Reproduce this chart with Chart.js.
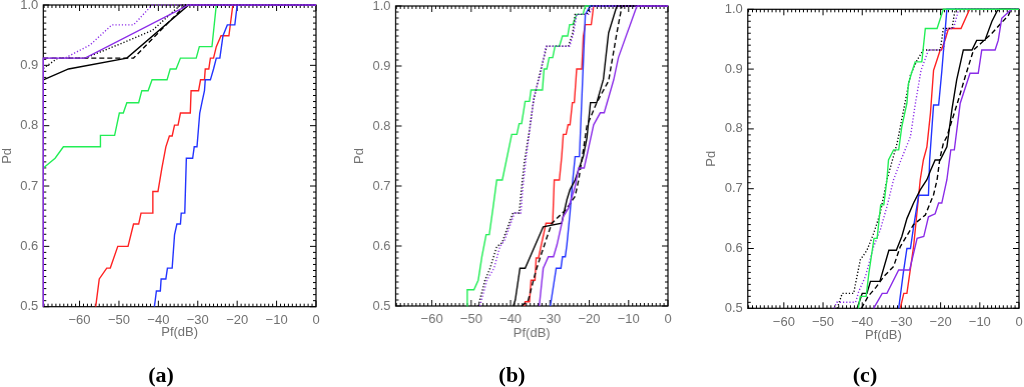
<!DOCTYPE html>
<html>
<head>
<meta charset="utf-8">
<script src="https://cdn.jsdelivr.net/npm/chart.js@4.4.1/dist/chart.umd.min.js"></script>
<style>
  html, body { margin: 0; padding: 0; background: #fff; }
  body { width: 1024px; height: 387px; overflow: hidden; position: relative; }
  canvas { position: absolute; }
  .cap { position: absolute; transform: translate(-50%, -50%); font-family: "Liberation Serif", "Times New Roman", serif; font-weight: bold; font-size: 22px; color: #000; white-space: nowrap; }
</style>
</head>
<body>
<canvas id="ca"></canvas>
<canvas id="cb"></canvas>
<canvas id="cc"></canvas>
<div class="cap" style="left:161px; top:375px;">(a)</div>
<div class="cap" style="left:512px; top:375px;">(b)</div>
<div class="cap" style="left:865px; top:375px;">(c)</div>
<script>
// ---------- axis ticks ----------
const xTicks = [-60, -50, -40, -30, -20, -10, 0];
const yTicks = [0.5, 0.6, 0.7, 0.8, 0.9, 1.0];
const xRange = [-69.2, 0];
const yRange = [0.5, 1.0];
const xLabel = 'Pf(dB)';
const yLabel = 'Pd';

// ---------- panel (a) ----------
const a_green = [[-69.2,0.730],[-66.2,0.746],[-64.1,0.765],[-54.7,0.765],[-54.7,0.784],[-51.1,0.784],[-49.9,0.821],[-48.9,0.821],[-48.0,0.838],[-45.0,0.838],[-44.2,0.858],[-42.6,0.858],[-41.6,0.876],[-37.8,0.876],[-37.0,0.894],[-35.5,0.894],[-34.4,0.912],[-30.4,0.912],[-29.6,0.931],[-26.4,0.931],[-25.3,1.0],[0,1.0]];
const a_red = [[-55.9,0.5],[-55.0,0.546],[-53.1,0.564],[-52.2,0.564],[-50.3,0.600],[-47.7,0.600],[-46.3,0.637],[-45.0,0.637],[-44.4,0.655],[-41.6,0.655],[-41.4,0.691],[-40.1,0.691],[-39.1,0.730],[-38.1,0.765],[-37.2,0.783],[-36.5,0.783],[-35.9,0.801],[-35.0,0.801],[-34.4,0.821],[-31.9,0.821],[-31.7,0.858],[-29.8,0.858],[-29.3,0.876],[-28.3,0.876],[-28.1,0.894],[-27.2,0.894],[-26.8,0.912],[-26.0,0.912],[-25.3,0.931],[-24.1,0.949],[-22.1,0.949],[-21.1,1.0],[0,1.0]];
const a_blue = [[-41.0,0.5],[-40.5,0.526],[-39.5,0.526],[-39.3,0.546],[-38.1,0.546],[-37.7,0.564],[-36.5,0.564],[-35.9,0.619],[-35.3,0.637],[-34.4,0.637],[-34.2,0.655],[-33.3,0.655],[-32.9,0.746],[-31.3,0.746],[-30.9,0.765],[-30.2,0.765],[-29.5,0.821],[-28.9,0.840],[-28.3,0.858],[-28.1,0.876],[-26.8,0.876],[-26.0,0.894],[-25.3,0.912],[-24.4,0.912],[-23.6,0.949],[-22.5,0.967],[-20.6,0.967],[-20.0,1.0],[0,1.0]];
const a_black = [[-69.2,0.876],[-62.8,0.894],[-48.0,0.912],[-32.3,1.0],[0,1.0]];
const a_dash = [[-69.2,0.912],[-46.3,0.912],[-33.1,1.0],[0,1.0]];
const a_dot = [[-69.2,0.895],[-65.5,0.912],[-58.6,0.912],[-48.0,0.940],[-41.5,0.958],[-34.4,1.0],[0,1.0]];
const a_purple = [[-69.2,0.5],[-69.2,0.912],[-58.6,0.912],[-32.3,1.0],[0,1.0]];
const a_pdot = [[-69.2,0.912],[-63.7,0.912],[-57.3,0.934],[-51.8,0.967],[-46.3,0.967],[-41.6,1.0],[0,1.0]];

// ---------- panel (b) ----------
const b_green = [[-51.1,0.5],[-51.0,0.527],[-49.3,0.527],[-48.2,0.543],[-47.3,0.582],[-46.2,0.619],[-45.4,0.619],[-44.4,0.666],[-43.5,0.71],[-42.1,0.71],[-39.7,0.786],[-38.4,0.786],[-37.8,0.804],[-37.2,0.804],[-36.3,0.841],[-35.2,0.841],[-34.8,0.860],[-31.9,0.860],[-31.5,0.895],[-30.8,0.895],[-30.2,0.914],[-29.3,0.914],[-28.7,0.933],[-27.6,0.933],[-26.8,0.950],[-25.5,0.950],[-25.0,0.969],[-24.2,0.969],[-23.2,0.986],[-21.6,0.986],[-21.0,1.0],[0,1.0]];
const b_red = [[-36.5,0.5],[-36.3,0.507],[-35.2,0.507],[-34.8,0.543],[-33.8,0.543],[-33.5,0.580],[-32.9,0.580],[-31.0,0.638],[-29.3,0.638],[-28.9,0.710],[-27.6,0.710],[-27.0,0.749],[-26.6,0.786],[-25.9,0.786],[-25.4,0.802],[-24.9,0.802],[-24.3,0.839],[-23.8,0.839],[-23.2,0.895],[-21.9,0.895],[-21.5,0.950],[-21.0,0.969],[-19.5,0.969],[-18.9,1.0],[0,1.0]];
const b_blue = [[-29.9,0.5],[-28.4,0.563],[-27.2,0.563],[-26.8,0.582],[-26.1,0.582],[-25.7,0.602],[-24.9,0.655],[-24.2,0.71],[-23.6,0.749],[-22.5,0.749],[-21.0,0.986],[-19.8,1.0],[0,1.0]];
const b_black = [[-39.3,0.5],[-38.8,0.51],[-37.6,0.563],[-36.3,0.563],[-31.7,0.632],[-27.0,0.638],[-25.7,0.677],[-24.9,0.694],[-23.6,0.71],[-21.5,0.75],[-20.6,0.78],[-19.7,0.839],[-18.1,0.839],[-16.4,0.878],[-15.1,0.955],[-13.0,1.0],[0,1.0]];
const b_dash = [[-37.2,0.5],[-35.5,0.51],[-33.5,0.56],[-31.0,0.61],[-29.5,0.638],[-26.0,0.66],[-23.6,0.683],[-22.7,0.71],[-21.5,0.76],[-20.6,0.80],[-19.0,0.825],[-18.1,0.839],[-15.1,0.875],[-13.0,0.955],[-11.7,1.0],[0,1.0]];
const b_dot = [[-48.2,0.5],[-46.5,0.543],[-45.2,0.563],[-43.5,0.599],[-42.2,0.605],[-39.4,0.655],[-37.8,0.655],[-37.2,0.697],[-36.5,0.74],[-35.3,0.789],[-34.2,0.841],[-32.9,0.878],[-30.8,0.933],[-25.3,0.933],[-24.2,0.955],[-23.6,0.986],[-20.6,0.986],[-19.8,1.0],[0,1.0]];
const b_purple = [[-32.7,0.5],[-31.7,0.563],[-30.4,0.582],[-29.1,0.582],[-28.2,0.602],[-26.6,0.649],[-25.3,0.663],[-23.6,0.699],[-22.7,0.730],[-21.3,0.730],[-18.9,0.802],[-17.2,0.822],[-16.2,0.822],[-13.8,0.877],[-12.6,0.914],[-7.9,1.0],[0,1.0]];
const b_pdot = [[-47.8,0.5],[-46.0,0.543],[-44.2,0.563],[-42.7,0.599],[-41.5,0.61],[-39.0,0.655],[-37.4,0.655],[-36.9,0.697],[-36.0,0.75],[-35.0,0.80],[-34.0,0.85],[-32.5,0.885],[-31.0,0.933],[-25.0,0.933],[-24.0,0.955],[-23.2,0.986],[-20.2,0.986],[-18.9,1.0],[0,1.0]];

// ---------- panel (c) ----------
const c_green = [[-41.0,0.5],[-40.5,0.52],[-39.0,0.52],[-38.3,0.559],[-37.0,0.617],[-36.2,0.617],[-35.3,0.673],[-34.5,0.673],[-33.7,0.715],[-33.3,0.748],[-32.0,0.765],[-30.7,0.765],[-29.9,0.804],[-28.6,0.843],[-28.2,0.876],[-27.3,0.896],[-26.5,0.912],[-24.8,0.912],[-23.9,0.968],[-20.9,0.968],[-19.3,1.0],[0,1.0]];
const c_red = [[-30.3,0.5],[-29.4,0.525],[-28.6,0.525],[-26.9,0.603],[-25.2,0.715],[-24.4,0.748],[-23.5,0.770],[-22.6,0.826],[-21.8,0.898],[-21.1,0.912],[-20.1,0.932],[-19.8,0.932],[-18.8,0.95],[-18.0,0.968],[-14.8,0.968],[-12.6,1.0],[0,1.0]];
const c_blue = [[-30.7,0.5],[-29.5,0.56],[-28.6,0.60],[-27.7,0.60],[-26.9,0.636],[-25.6,0.689],[-23.1,0.689],[-22.8,0.748],[-21.8,0.84],[-20.5,0.84],[-19.7,0.896],[-18.4,1.0],[0,1.0]];
const c_black = [[-41.3,0.5],[-40.0,0.525],[-38.8,0.525],[-37.9,0.545],[-35.5,0.545],[-33.2,0.597],[-31.3,0.597],[-29.9,0.620],[-28.6,0.650],[-26.9,0.676],[-25.2,0.698],[-23.5,0.715],[-22.6,0.73],[-21.4,0.748],[-20.1,0.748],[-18.4,0.770],[-17.1,0.833],[-15.9,0.882],[-14.2,0.932],[-12.0,0.932],[-10.8,0.948],[-8.7,0.948],[-6.9,0.98],[-5.5,0.998],[-5.0,1.0],[0,1.0]];
const c_dash = [[-40.2,0.5],[-38.5,0.52],[-36.5,0.535],[-34.5,0.553],[-32.0,0.57],[-30.3,0.603],[-26.9,0.64],[-23.9,0.656],[-21.8,0.69],[-20.9,0.715],[-20.2,0.75],[-19.3,0.776],[-18.4,0.787],[-15.4,0.85],[-13.7,0.888],[-11.6,0.932],[-6.9,0.96],[-2.7,0.99],[-2.0,1.0],[0,1.0]];
const c_dot = [[-46.4,0.5],[-45.1,0.525],[-42.2,0.525],[-40.5,0.581],[-38.8,0.597],[-37.1,0.625],[-35.4,0.659],[-33.7,0.715],[-31.1,0.776],[-27.7,0.890],[-26.0,0.915],[-24.4,0.932],[-20.1,0.932],[-19.3,0.968],[-17.1,0.968],[-16.3,1.0],[0,1.0]];
const c_purple = [[-37.1,0.5],[-34.9,0.525],[-33.7,0.525],[-30.7,0.564],[-27.9,0.564],[-26.0,0.617],[-24.3,0.62],[-23.1,0.653],[-21.4,0.658],[-20.5,0.676],[-19.7,0.676],[-18.4,0.715],[-17.9,0.74],[-17.4,0.765],[-16.5,0.765],[-15.0,0.843],[-12.5,0.893],[-10.4,0.893],[-9.5,0.932],[-6.1,0.932],[-5.3,0.948],[-4.4,0.985],[-1.9,1.0],[0,1.0]];
const c_pdot = [[-47.2,0.5],[-46.5,0.51],[-41.7,0.51],[-40.9,0.528],[-39.2,0.553],[-37.1,0.603],[-35.4,0.631],[-33.7,0.670],[-32.0,0.715],[-30.0,0.75],[-27.7,0.787],[-26.5,0.84],[-25.0,0.898],[-23.1,0.932],[-19.3,0.932],[-18.4,0.968],[-16.7,0.968],[-15.4,1.0],[0,1.0]];

// ---------- styles ----------
const GREEN = '#22ee55', RED = '#ff2222', BLUE = '#2233ff', BLACK = '#000000', PURPLE = '#8a2be8';
const DASH = [5, 3], DOT = [1.2, 2];
const TXT = '#707070';
const FONT = 'Liberation Sans, Arial, sans-serif';

function ds(pts, color, dash) {
  return {
    data: pts.map(p => ({ x: p[0], y: p[1] })),
    borderColor: color,
    borderWidth: 1.4,
    borderDash: dash || [],
    pointRadius: 0,
    tension: 0,
    fill: false,
    clip: 3
  };
}

const frame = {
  id: 'frame',
  beforeDatasetsDraw(chart) {
    const { ctx, chartArea: a, scales: { x, y } } = chart;
    ctx.save();
    ctx.strokeStyle = '#000';
    ctx.lineWidth = 1.2;
    ctx.strokeRect(a.left, a.top, a.right - a.left, a.bottom - a.top);
    ctx.beginPath();
    for (let v = Math.ceil(x.min); v <= x.max; v++) {
      const px = x.getPixelForValue(v);
      const len = xTicks.includes(v) ? 6 : 3;
      ctx.moveTo(px, a.bottom); ctx.lineTo(px, a.bottom - len);
      ctx.moveTo(px, a.top); ctx.lineTo(px, a.top + len);
    }
    for (let i = Math.round(y.min * 100); i <= Math.round(y.max * 100); i++) {
      const py = y.getPixelForValue(i / 100);
      const len = (i % 10 === 0) ? 6 : 3;
      ctx.moveTo(a.left, py); ctx.lineTo(a.left + len, py);
      ctx.moveTo(a.right, py); ctx.lineTo(a.right - len, py);
    }
    ctx.lineWidth = 1;
    ctx.stroke();
    ctx.restore();
  }
};

function panel(id, box, datasets) {
  const c = document.getElementById(id);
  c.width = box.w; c.height = box.h;
  c.style.left = box.l + 'px'; c.style.top = box.t + 'px';
  c.style.width = box.w + 'px'; c.style.height = box.h + 'px';
  new Chart(c, {
    type: 'line',
    data: { datasets },
    options: {
      responsive: false,
      animation: false,
      events: [],
      layout: { padding: { left: 0, right: box.pr, top: box.pt, bottom: box.pb } },
      plugins: { legend: { display: false }, tooltip: { enabled: false } },
      scales: {
        x: {
          type: 'linear', min: xRange[0], max: xRange[1],
          afterBuildTicks: s => { s.ticks = xTicks.map(v => ({ value: v })); },
          afterFit: s => { s.height = box.xH; },
          grid: { display: false, drawTicks: false },
          border: { display: false },
          ticks: {
            padding: 6, maxRotation: 0, autoSkip: false, color: TXT,
            font: { family: FONT, size: 13 },
            callback: v => (v < 0 ? '\u2212' : '') + Math.abs(v)
          },
          title: { display: true, text: xLabel, color: TXT, padding: 0, font: { family: FONT, size: 13 } }
        },
        y: {
          type: 'linear', min: yRange[0], max: yRange[1],
          afterBuildTicks: s => { s.ticks = yTicks.map(v => ({ value: v })); },
          afterFit: s => { s.width = box.yW; },
          grid: { display: false, drawTicks: false },
          border: { display: false },
          ticks: {
            padding: 5, autoSkip: false, color: TXT,
            font: { family: FONT, size: 13 },
            callback: v => Number(v).toFixed(1)
          },
          title: { display: true, text: yLabel, color: TXT, padding: 0, font: { family: FONT, size: 13 } }
        }
      }
    },
    plugins: [frame]
  });
}

panel('ca', { l: 0, t: -20, w: 340, h: 420, yW: 43.3, xH: 34, pr: 24, pt: 25, pb: 59.3 }, [
  ds(a_purple, PURPLE), ds(a_pdot, PURPLE, DOT), ds(a_black, BLACK), ds(a_dash, BLACK, DASH),
  ds(a_dot, BLACK, DOT), ds(a_blue, BLUE), ds(a_red, RED), ds(a_green, GREEN)
]);
panel('cb', { l: 352.2, t: -20, w: 339.5, h: 420, yW: 43.5, xH: 34.8, pr: 24, pt: 26, pb: 59.2 }, [
  ds(b_purple, PURPLE), ds(b_pdot, PURPLE, DOT), ds(b_black, BLACK), ds(b_dash, BLACK, DASH),
  ds(b_dot, BLACK, DOT), ds(b_blue, BLUE), ds(b_red, RED), ds(b_green, GREEN)
]);
panel('cc', { l: 703.9, t: -20, w: 339.1, h: 420, yW: 43.8, xH: 34.5, pr: 24, pt: 29.3, pb: 57.2 }, [
  ds(c_green, GREEN), ds(c_purple, PURPLE), ds(c_pdot, PURPLE, DOT), ds(c_black, BLACK),
  ds(c_dash, BLACK, DASH), ds(c_dot, BLACK, DOT), ds(c_blue, BLUE), ds(c_red, RED)
]);
</script>
</body>
</html>
